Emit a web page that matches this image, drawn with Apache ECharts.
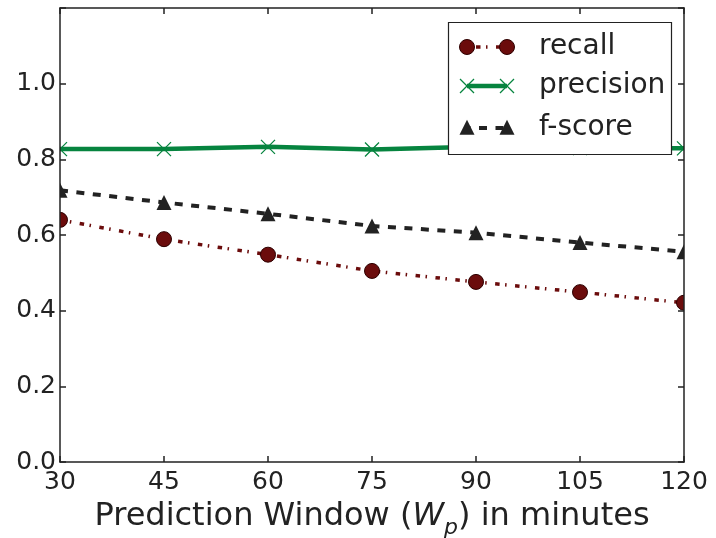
<!DOCTYPE html>
<html>
<head>
<meta charset="utf-8">
<script src="https://cdn.jsdelivr.net/npm/echarts@6/dist/echarts.min.js"></script>
<style>
  html, body { margin: 0; padding: 0; background: #fff; }
  #chart { width: 716px; height: 538px; }
</style>
</head>
<body>
<div id="chart"></div>
<script>
// Prediction window lengths (minutes) and the scores measured for each
const windows   = [30, 45, 60, 75, 90, 105, 120];
const recall    = [0.640, 0.589, 0.548, 0.505, 0.476, 0.449, 0.421];
const precision = [0.827, 0.827, 0.833, 0.826, 0.833, 0.830, 0.829];
const fscore    = [0.718, 0.686, 0.656, 0.624, 0.606, 0.580, 0.556];

// Tick labels
const xTickLabels = ['30', '45', '60', '75', '90', '105', '120'];
const yTickLabels = ['0.0', '0.2', '0.4', '0.6', '0.8', '1.0', ''];
const seriesNames = ['recall', 'precision', 'f-score'];

// Plot frame (pixels)
const FRAME = { left: 60, top: 8, right: 684, bottom: 462, width: 716, height: 538 };

const INK = '#222222';
const RED = '#6b0c0c';
const RED_EDGE = '#2e0000';
const GREEN = '#06843f';
const FONT = 'DejaVu Sans';

const CROSS = 'path://M0,0L10,10M10,0L0,10';

const pairs = vals => windows.map((w, i) => [w, vals[i]]);

const axisLineStyle = { color: INK, width: 1.5 };

function xAxisBase(pos, showLabels) {
  return {
    type: 'value', position: pos, min: 30, max: 120, interval: 15, z: 4,
    axisLine: { show: true, onZero: false, lineStyle: axisLineStyle },
    axisTick: { show: true, inside: true, length: 6, lineStyle: axisLineStyle },
    axisLabel: {
      show: showLabels, margin: 8, fontSize: 25, color: INK, fontFamily: FONT,
      formatter: v => xTickLabels[windows.indexOf(v)] ?? ''
    },
    splitLine: { show: false }
  };
}
function yAxisBase(pos, showLabels) {
  return {
    type: 'value', position: pos, min: 0, max: 1.2, interval: 0.2, z: 4,
    axisLine: { show: true, onZero: false, lineStyle: axisLineStyle },
    axisTick: { show: true, inside: true, length: 6, lineStyle: axisLineStyle },
    axisLabel: {
      show: showLabels, margin: 4, fontSize: 25, color: INK, fontFamily: FONT,
      formatter: v => yTickLabels[Math.round(v / 0.2)] ?? ''
    },
    splitLine: { show: false }
  };
}

const xMain = xAxisBase('bottom', true);
xMain.name = '{t|Prediction Window (}{w|W}{p|p}{t|) in minutes}';
xMain.nameLocation = 'middle';
xMain.nameGap = 33;
xMain.nameTextStyle = {
  color: INK, fontFamily: FONT, fontSize: 32,
  rich: {
    t: { fontSize: 32, fontFamily: FONT, color: INK, lineHeight: 44 },
    w: { fontSize: 32, fontFamily: FONT, color: INK, fontStyle: 'italic', lineHeight: 44 },
    p: { fontSize: 22, fontFamily: FONT, color: INK, fontStyle: 'italic', lineHeight: 44, verticalAlign: 'bottom' }
  }
};

// White masks outside the frame so markers on the edges are cut at the spines
const masks = [
  { x: 0, y: 0, width: FRAME.left, height: FRAME.height },
  { x: FRAME.right, y: 0, width: FRAME.width - FRAME.right, height: FRAME.height },
  { x: 0, y: 0, width: FRAME.width, height: FRAME.top },
  { x: 0, y: FRAME.bottom, width: FRAME.width, height: FRAME.height - FRAME.bottom }
].map(r => ({ type: 'rect', shape: r, style: { fill: '#fff' }, z: 3, silent: true }));

// Legend box
const LG = { x: 448.5, y: 22.5, w: 223, h: 132, m1: 467, m2: 507, tx: 539, rows: [47, 86, 128] };
function tri(cx, cy, s) {
  return { type: 'polygon', z: 6, shape: { points: [[cx, cy - s * 0.55], [cx + s / 2, cy + s * 0.45], [cx - s / 2, cy + s * 0.45]] }, style: { fill: INK } };
}
function cross(cx, cy, h) {
  return { type: 'polyline', z: 6, shape: { points: [[cx - h, cy - h], [cx + h, cy + h]] }, style: { stroke: GREEN, lineWidth: 1.3, fill: null } };
}
function cross2(cx, cy, h) {
  return { type: 'polyline', z: 6, shape: { points: [[cx + h, cy - h], [cx - h, cy + h]] }, style: { stroke: GREEN, lineWidth: 1.3, fill: null } };
}
const legend = [
  { type: 'rect', z: 5, shape: { x: LG.x, y: LG.y, width: LG.w, height: LG.h }, style: { fill: '#fff', stroke: INK, lineWidth: 1.2 } },
  // recall
  { type: 'line', z: 6, shape: { x1: LG.m1, y1: LG.rows[0], x2: LG.m2, y2: LG.rows[0] }, style: { stroke: RED, lineWidth: 3.5, lineDash: [4.5, 5.5, 1.5, 8.5], lineDashOffset: -9 } },
  { type: 'circle', z: 6, shape: { cx: LG.m1, cy: LG.rows[0], r: 7.5 }, style: { fill: RED, stroke: RED_EDGE, lineWidth: 1 } },
  { type: 'circle', z: 6, shape: { cx: LG.m2, cy: LG.rows[0], r: 7.5 }, style: { fill: RED, stroke: RED_EDGE, lineWidth: 1 } },
  // precision
  { type: 'line', z: 6, shape: { x1: LG.m1, y1: LG.rows[1], x2: LG.m2, y2: LG.rows[1] }, style: { stroke: GREEN, lineWidth: 4.5 } },
  cross(LG.m1, LG.rows[1], 7), cross2(LG.m1, LG.rows[1], 7),
  cross(LG.m2, LG.rows[1], 7), cross2(LG.m2, LG.rows[1], 7),
  // f-score
  { type: 'line', z: 6, shape: { x1: LG.m1, y1: LG.rows[2], x2: LG.m2, y2: LG.rows[2] }, style: { stroke: INK, lineWidth: 4, lineDash: [8, 8.5], lineDashOffset: -12 } },
  tri(LG.m1, LG.rows[2], 15), tri(LG.m2, LG.rows[2], 15)
].concat(seriesNames.map((n, i) => ({
  type: 'text', z: 6, x: LG.tx, y: LG.rows[i],
  style: { text: n, fill: INK, font: '28px "DejaVu Sans"', verticalAlign: 'middle', align: 'left' }
})));

const chart = echarts.init(document.getElementById('chart'), null, { renderer: 'canvas' });
chart.setOption({
  animation: false,
  backgroundColor: '#fff',
  grid: {
    left: FRAME.left, top: FRAME.top,
    right: FRAME.width - FRAME.right, bottom: FRAME.height - FRAME.bottom,
    containLabel: false, outerBoundsMode: 'none'
  },
  xAxis: [xMain, xAxisBase('top', false)],
  yAxis: [yAxisBase('left', true), yAxisBase('right', false)],
  series: [
    {
      name: seriesNames[0], type: 'line', data: pairs(recall), z: 2,
      symbol: 'circle', symbolSize: 15, showAllSymbol: true,
      lineStyle: { color: RED, width: 3.5, type: [4.5, 5.5, 1.5, 8.5] },
      itemStyle: { color: RED, borderColor: RED_EDGE, borderWidth: 1 },
      emphasis: { disabled: true }
    },
    {
      name: seriesNames[1], type: 'line', data: pairs(precision), z: 2,
      symbol: CROSS, symbolSize: 14, showAllSymbol: true,
      lineStyle: { color: GREEN, width: 4.5 },
      itemStyle: { color: 'transparent', borderColor: GREEN, borderWidth: 1.3 },
      emphasis: { disabled: true }
    },
    {
      name: seriesNames[2], type: 'line', data: pairs(fscore), z: 2,
      symbol: 'triangle', symbolSize: 15, showAllSymbol: true,
      lineStyle: { color: INK, width: 4, type: [8, 8.5] },
      itemStyle: { color: INK },
      emphasis: { disabled: true }
    }
  ],
  graphic: masks.concat(legend)
});
</script>
</body>
</html>
